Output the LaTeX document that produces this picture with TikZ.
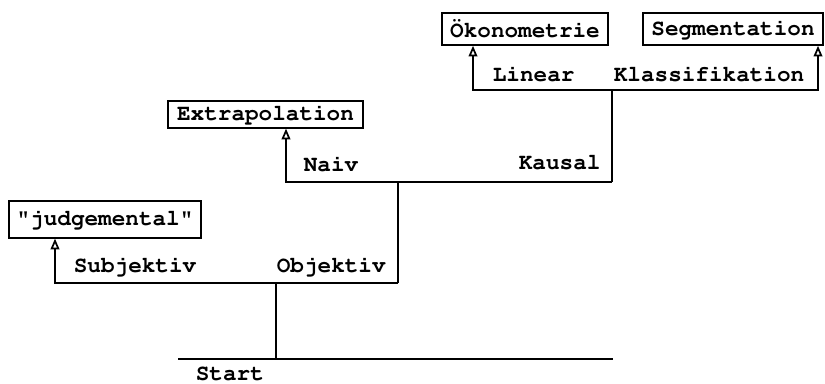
\documentclass[tikz,border=0pt]{standalone}
\usepackage[T1,TU]{fontenc}
\usepackage{tikz}
\usetikzlibrary{arrows.meta,positioning,calc}
\newcommand\typewr{\fontencoding{T1}\fontfamily{pcr}\fontseries{b}\fontsize{17}{20}\selectfont}

\begin{document}
\begin{tikzpicture}[x=0.75pt,y=-0.75pt,line width=1.3pt,>={Triangle[open,length=8pt,width=6.5pt]},
  every node/.style={font=\typewr},
  box/.style={draw,line width=1.2pt,inner sep=0pt,align=center},
  lbl/.style={anchor=base west,inner sep=0pt}]
\useasboundingbox (0,0) rectangle (825,384);
\node[box,minimum width=144pt,minimum height=27.5pt](judg) at (105,219.5){"judgemental"};
\node[box,minimum width=146pt,minimum height=20pt](extra) at (265.5,114.5){Extrapolation};
\node[box,minimum width=124.5pt,minimum height=24pt](oeko) at (525,29){Ökonometrie};
\node[box,minimum width=135pt,minimum height=24pt](segm) at (733,29){Segmentation};
\node[lbl](start) at (195,381){Start};
\node[lbl](subjl) at (73,273){Subjektiv};
\node[lbl](objl) at (276,273){Objektiv};
\node[lbl](naivl) at (303,172){Naiv};
\node[lbl](kausl) at (518,170){Kausal};
\node[lbl](linl) at (492,82){Linear};
\node[lbl](klassl) at (613,82){Klassifikation};
\coordinate (sl) at (178,359); \coordinate (sr) at (613,359);
\coordinate (s0) at (276,359); \coordinate (s1) at (276,283);
\coordinate (subj) at (55,283); \coordinate (obj) at (398,283);
\coordinate (naiv) at (286,182); \coordinate (kaus) at (612,182);
\coordinate (lin) at (473,90); \coordinate (klass) at (818,90);
\draw (sl)--(sr); \draw (s0)--(s1);
\draw[->] (obj)--(subj)--(subj |- judg.south);
\draw (obj)--(obj |- naiv);
\draw[->] (kaus)--(naiv)--(naiv |- extra.south);
\draw (kaus)--(kaus |- lin);
\draw[<->] (lin |- oeko.south)--(lin)--(klass)--(klass |- segm.south);
\end{tikzpicture}
\end{document}
